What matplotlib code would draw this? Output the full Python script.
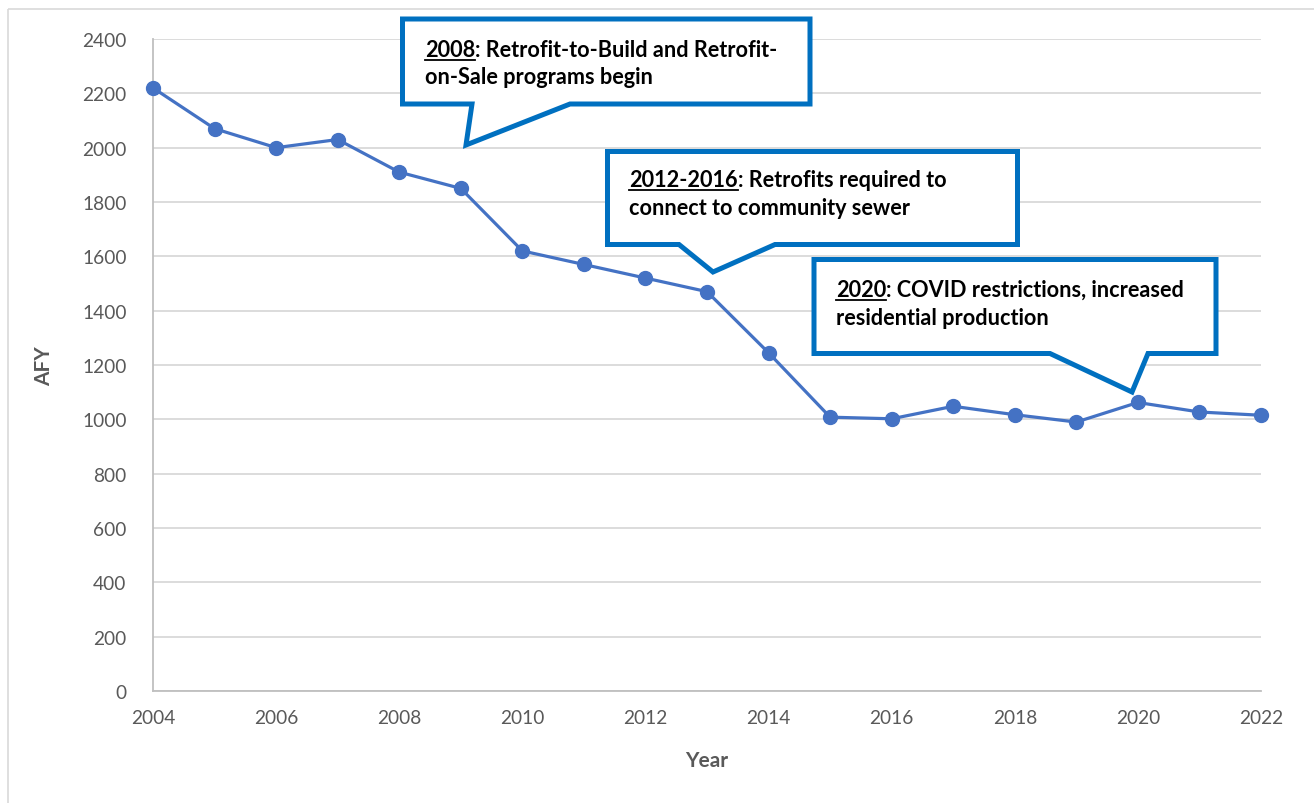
import matplotlib
matplotlib.use("Agg")
import matplotlib.pyplot as plt
from matplotlib.patches import Polygon, Rectangle
from matplotlib.lines import Line2D
from matplotlib.transforms import Affine2D

# data
years = list(range(2004, 2023))
afy = [2220, 2070, 2000, 2030, 1910, 1850, 1620, 1570, 1520, 1470,
       1245, 1008, 1002, 1048, 1017, 990, 1062, 1027, 1015]
x_ticks = list(range(2004, 2023, 2))
y_ticks = list(range(0, 2401, 200))

callout_heads = ["2008", "2012-2016", "2020"]
callout_line1 = [": Retrofit-to-Build and Retrofit-", ": Retrofits required to",
                 ": COVID restrictions, increased"]
callout_line2 = ["on-Sale programs begin", "connect to community sewer",
                 "residential production"]

# callout geometry in image pixels: box (x0, x1, y0, y1), pointer (base_left, base_right, tip_x, tip_y), text (x, baseline1, baseline2)
callout_boxes = [(402.5, 810, 20, 105), (607.5, 1017.5, 152.5, 245.5), (814, 1216, 260.5, 354.5)]
callout_ptrs = [(472, 570, 466, 146), (679, 775, 713, 273), (1050, 1148, 1132, 393)]
callout_text = [(425, 57, 84), (629, 187, 215), (836, 297, 325)]

W, H = 1314, 804
BLUE = "#4472C4"
CALLOUT = "#0070C0"
GREY = "#595959"
FONT = "Lato"
CSIZE = 15.6

plt.rcParams["font.family"] = [FONT, "DejaVu Sans"]

fig = plt.figure(figsize=(W / 100, H / 100), dpi=100)
ax = fig.add_axes([153 / W, (H - 692) / H, (1261 - 153) / W, (692 - 40) / H])
px = Affine2D().scale(1 / W, -1 / H).translate(0, 1) + fig.transFigure

# chart border (only left/top visible in the crop)
fig.patches.append(Rectangle((8, 10), W + 20, H + 20, transform=px, fill=False,
                             edgecolor="#D9D9D9", linewidth=1.2))

ax.plot(years, afy, color=BLUE, linewidth=2.3, marker="o", markersize=10, zorder=3, clip_on=False)
ax.set_xlim(2004, 2022)
ax.set_ylim(0, 2400)
ax.set_xticks(x_ticks)
ax.set_yticks(y_ticks)
ax.grid(axis="y", color="#D9D9D9", linewidth=1.3)
ax.set_axisbelow(True)
for s in ["top", "right"]:
    ax.spines[s].set_visible(False)
for s in ["left", "bottom"]:
    ax.spines[s].set_color("#BFBFBF")
    ax.spines[s].set_linewidth(1.3)
ax.tick_params(length=0, labelsize=13.8, labelcolor=GREY)
ax.tick_params(axis="y", pad=19)
ax.tick_params(axis="x", pad=13)
ax.set_xlabel("Year", fontsize=15, fontweight="bold", color=GREY, labelpad=17)
ax.set_ylabel("AFY", fontsize=15, fontweight="bold", color=GREY, labelpad=20)

# callouts
heads = []
for (x0, x1, y0, y1), (bl, br, tx, ty), (tx0, b1, b2), head, l2 in zip(
        callout_boxes, callout_ptrs, callout_text, callout_heads, callout_line2):
    pts = [(x0, y0), (x1, y0), (x1, y1), (br, y1), (tx, ty), (bl, y1), (x0, y1)]
    fig.patches.append(Polygon(pts, closed=True, transform=px, facecolor="white",
                               edgecolor=CALLOUT, linewidth=3.6, joinstyle="miter", zorder=5))
    t = fig.text(tx0, b1, head, transform=px, fontsize=CSIZE, fontweight="bold",
                 va="baseline", ha="left", zorder=6)
    fig.text(tx0, b2, l2, transform=px, fontsize=CSIZE, fontweight="bold",
             va="baseline", ha="left", zorder=6)
    heads.append((t, b1))

fig.canvas.draw()
for (t, b1), rest in zip(heads, callout_line1):
    bb = t.get_window_extent()
    fig.lines.append(Line2D([bb.x0, bb.x1], [b1 + 3.5, b1 + 3.5], transform=px,
                            color="black", linewidth=1.3, zorder=6))
    fig.text(bb.x1, b1, rest, transform=px, fontsize=CSIZE, fontweight="bold",
             va="baseline", ha="left", zorder=6)

fig.savefig("out.png", dpi=100)
